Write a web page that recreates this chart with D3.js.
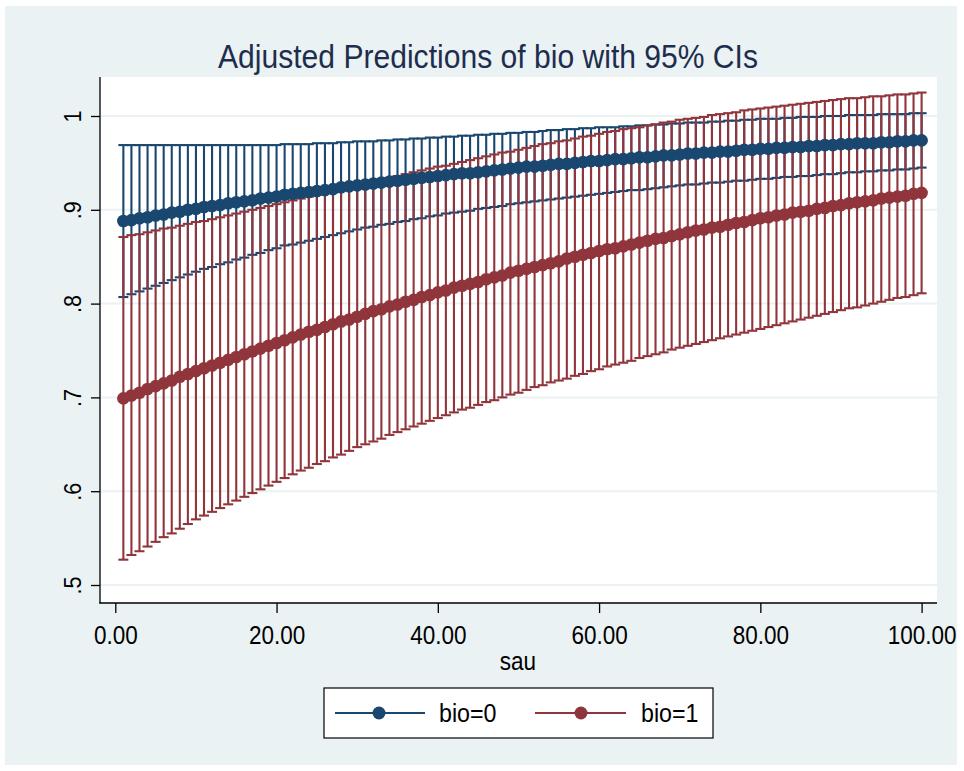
<!DOCTYPE html>
<html><head><meta charset="utf-8">
<script src="https://cdn.jsdelivr.net/npm/d3@7"></script>
<style>
body{margin:0;background:#fff}
svg{display:block}
text{font-family:"Liberation Sans",Arial,Helvetica,sans-serif}
</style>
</head><body>
<svg id="chart" width="964" height="771"></svg>
<script>
// ---- data ----
const sau = [1,2,3,4,5,6,7,8,9,10,11,12,13,14,15,16,17,18,19,20,
21,22,23,24,25,26,27,28,29,30,31,32,33,34,35,36,37,38,39,40,
41,42,43,44,45,46,47,48,49,50,51,52,53,54,55,56,57,58,59,60,
61,62,63,64,65,66,67,68,69,70,71,72,73,74,75,76,77,78,79,80,
81,82,83,84,85,86,87,88,89,90,91,92,93,94,95,96,97,98,99,100];

const est0 = [.888,.889,.891,.892,.894,.895,.897,.898,.900,.901,
.903,.904,.905,.907,.908,.909,.910,.912,.913,.914,
.916,.917,.918,.919,.920,.921,.922,.924,.925,.926,
.927,.928,.929,.930,.931,.932,.933,.934,.935,.936,
.937,.938,.939,.939,.940,.941,.942,.943,.944,.945,
.946,.946,.947,.948,.949,.949,.950,.951,.952,.952,
.953,.954,.954,.955,.956,.956,.957,.958,.958,.959,
.960,.960,.961,.961,.962,.962,.963,.964,.964,.965,
.965,.966,.966,.967,.967,.968,.968,.969,.969,.970,
.970,.971,.971,.971,.972,.972,.973,.973,.974,.974];

const hi0 = [.969,.969,.969,.969,.969,.969,.969,.969,.969,.969,
.969,.969,.969,.969,.969,.969,.969,.969,.969,.969,
.970,.970,.970,.970,.971,.971,.971,.972,.972,.973,
.973,.973,.974,.974,.975,.975,.976,.976,.977,.977,
.978,.978,.979,.979,.980,.980,.981,.981,.982,.982,
.983,.983,.984,.985,.985,.986,.986,.987,.987,.988,
.988,.988,.989,.989,.990,.990,.991,.991,.992,.992,
.993,.993,.993,.994,.994,.995,.995,.996,.996,.997,
.997,.997,.998,.998,.999,.999,.999,1.000,1.000,1.000,
1.001,1.001,1.001,1.001,1.002,1.002,1.002,1.002,1.003,1.003];

const lo0 = [.807,.810,.813,.816,.819,.822,.825,.828,.831,.834,
.837,.839,.842,.844,.847,.849,.852,.854,.857,.859,
.862,.863,.865,.867,.869,.871,.873,.875,.877,.879,
.881,.882,.884,.885,.887,.888,.890,.891,.893,.894,
.896,.897,.898,.899,.901,.902,.903,.904,.906,.907,
.908,.909,.910,.911,.912,.913,.914,.915,.916,.917,
.918,.919,.920,.921,.921,.922,.923,.924,.925,.926,
.927,.927,.928,.929,.929,.930,.931,.931,.932,.933,
.933,.934,.935,.935,.936,.936,.937,.938,.938,.939,
.940,.940,.941,.941,.942,.942,.943,.943,.944,.945];

const est1 = [.699,.702,.705,.709,.712,.715,.718,.722,.725,.728,
.731,.734,.737,.740,.743,.746,.749,.752,.755,.758,
.761,.764,.767,.770,.772,.775,.778,.781,.783,.786,
.789,.792,.794,.797,.799,.802,.804,.807,.809,.812,
.814,.817,.819,.821,.823,.826,.828,.830,.833,.835,
.837,.839,.841,.843,.845,.848,.850,.852,.854,.856,
.858,.859,.861,.863,.865,.867,.869,.870,.872,.874,
.876,.878,.879,.881,.882,.884,.886,.887,.889,.891,
.892,.894,.895,.897,.898,.899,.901,.902,.904,.905,
.907,.908,.909,.910,.912,.913,.914,.915,.917,.918];

const hi1 = [.871,.873,.874,.876,.878,.880,.881,.883,.885,.887,
.888,.890,.892,.894,.896,.898,.900,.902,.904,.906,
.908,.910,.912,.914,.916,.918,.920,.922,.924,.926,
.928,.930,.932,.934,.936,.938,.940,.942,.944,.946,
.947,.949,.951,.953,.955,.957,.959,.961,.962,.964,
.966,.968,.970,.971,.973,.974,.976,.978,.979,.981,
.983,.984,.986,.987,.988,.990,.991,.993,.994,.996,
.997,.998,.999,1.001,1.002,1.003,1.004,1.006,1.007,1.008,
1.009,1.010,1.011,1.012,1.013,1.014,1.015,1.016,1.017,1.018,
1.019,1.019,1.020,1.021,1.021,1.022,1.023,1.023,1.024,1.025];

const lo1 = [.527,.532,.536,.541,.546,.551,.555,.560,.565,.570,
.574,.578,.582,.586,.590,.594,.598,.602,.606,.610,
.614,.618,.622,.625,.629,.632,.636,.639,.643,.647,
.650,.653,.656,.660,.663,.666,.669,.672,.675,.678,
.681,.684,.687,.689,.692,.695,.697,.700,.703,.705,
.708,.711,.713,.716,.718,.720,.723,.725,.728,.730,
.733,.735,.737,.739,.742,.744,.746,.748,.751,.753,
.755,.757,.759,.761,.763,.765,.767,.769,.771,.773,
.775,.777,.779,.781,.783,.785,.787,.789,.791,.793,
.795,.796,.798,.800,.802,.804,.806,.807,.809,.811];

const seriesNames = ["bio=0", "bio=1"];
const xTicks = [0, 20, 40, 60, 80, 100];
const xTickLabels = ["0.00", "20.00", "40.00", "60.00", "80.00", "100.00"];
const yTicks = [0.5, 0.6, 0.7, 0.8, 0.9, 1];
const yTickLabels = [".5", ".6", ".7", ".8", ".9", "1"];
const titleText = "Adjusted Predictions of bio with 95% CIs";
const xTitle = "sau";

// ---- drawing ----
const colors = ["#1a476f", "#90353b"];
const series = [
  {name: seriesNames[0], est: est0, lo: lo0, hi: hi0, color: colors[0]},
  {name: seriesNames[1], est: est1, lo: lo1, hi: hi1, color: colors[1]}
];

const svg = d3.select("#chart");
const W = 964, H = 771;
const plot = {left: 100, right: 937, top: 77, bottom: 603};
const FONT = '"Liberation Sans", Arial, sans-serif';

// condense text a little, as Stata's Helvetica rendering is narrow
function condense(sel, k) {
  sel.each(function() {
    const w = this.getComputedTextLength();
    d3.select(this).attr("textLength", w * k).attr("lengthAdjust", "spacingAndGlyphs");
  });
}

svg.append("rect").attr("x", 0).attr("y", 0).attr("width", W).attr("height", H).attr("fill", "#ffffff");
svg.append("rect").attr("x", 5).attr("y", 6).attr("width", 952).attr("height", 759).attr("fill", "#eaf2f3");
svg.append("rect").attr("x", plot.left).attr("y", plot.top)
  .attr("width", plot.right - plot.left).attr("height", plot.bottom - plot.top).attr("fill", "#ffffff");

const x = d3.scaleLinear().domain([0, 100]).range([115.3, 921.6]);
const y = d3.scaleLinear().domain([0.5, 1]).range([585, 116]);

// gridlines
svg.append("g").selectAll("line").data(yTicks).join("line")
  .attr("x1", plot.left).attr("x2", plot.right)
  .attr("y1", d => y(d)).attr("y2", d => y(d))
  .attr("stroke", "#eaf2f3").attr("stroke-width", 2);

// CI caps
const capHalf = 5;
series.forEach(s => {
  const g = svg.append("g");
  const data = sau.map((v, i) => ({x: v, lo: s.lo[i], hi: s.hi[i]}));
  g.selectAll("line.v").data(data).join("line").attr("class", "v")
    .attr("x1", d => x(d.x)).attr("x2", d => x(d.x))
    .attr("y1", d => y(d.lo)).attr("y2", d => y(d.hi))
    .attr("stroke", s.color).attr("stroke-width", 2.1);
  ["lo", "hi"].forEach(k => {
    g.selectAll("line.c" + k).data(data).join("line").attr("class", "c" + k)
      .attr("x1", d => x(d.x) - capHalf).attr("x2", d => x(d.x) + capHalf)
      .attr("y1", d => y(d[k])).attr("y2", d => y(d[k]))
      .attr("stroke", s.color).attr("stroke-width", 2.1);
  });
});

// estimate lines + markers
series.forEach(s => {
  const pts = sau.map((v, i) => [x(v), y(s.est[i])]);
  svg.append("path").attr("d", d3.line()(pts))
    .attr("fill", "none").attr("stroke", s.color).attr("stroke-width", 2.4);
  svg.append("g").selectAll("circle").data(pts).join("circle")
    .attr("cx", d => d[0]).attr("cy", d => d[1]).attr("r", 6.3)
    .attr("fill", s.color);
});

// axes
const yAxis = d3.axisLeft(y).tickValues(yTicks)
  .tickFormat((d, i) => yTickLabels[i]).tickSize(9);
const gy = svg.append("g").attr("transform", `translate(${plot.left},0)`).call(yAxis);
gy.select(".domain").remove();
gy.selectAll(".tick line").attr("stroke", "#000").attr("stroke-width", 1.3);
gy.selectAll(".tick text")
  .attr("transform", "rotate(-90)")
  .attr("x", 0).attr("y", -19).attr("dy", 0)
  .attr("text-anchor", "middle")
  .attr("fill", "#000").style("font-size", "24px")
  .style("font-family", FONT)
  .call(condense, 0.9);

const xAxis = d3.axisBottom(x).tickValues(xTicks)
  .tickFormat((d, i) => xTickLabels[i]).tickSize(10).tickPadding(4);
const gx = svg.append("g").attr("transform", `translate(0,${plot.bottom})`).call(xAxis);
gx.select(".domain").remove();
gx.selectAll(".tick line").attr("stroke", "#000").attr("stroke-width", 1.3);
gx.selectAll(".tick text")
  .attr("y", 41).attr("dy", 0)
  .attr("fill", "#000").style("font-size", "25px")
  .style("font-family", FONT)
  .call(condense, 0.9);

svg.append("line").attr("x1", plot.left).attr("x2", plot.left)
  .attr("y1", plot.top).attr("y2", plot.bottom + 0.6)
  .attr("stroke", "#000").attr("stroke-width", 1.3);
svg.append("line").attr("x1", plot.left - 0.6).attr("x2", plot.right)
  .attr("y1", plot.bottom).attr("y2", plot.bottom)
  .attr("stroke", "#000").attr("stroke-width", 1.3);

// axis title
svg.append("text").attr("x", 518).attr("y", 670).attr("text-anchor", "middle")
  .style("font-size", "25px").attr("fill", "#000").text(xTitle)
  .call(condense, 0.9);

// title
svg.append("text").attr("x", 488).attr("y", 68).attr("text-anchor", "middle")
  .attr("textLength", 540).attr("lengthAdjust", "spacingAndGlyphs")
  .style("font-size", "33px").attr("fill", "#1e2d4e").text(titleText);

// legend
const lg = svg.append("g");
lg.append("rect").attr("x", 324).attr("y", 688).attr("width", 389).attr("height", 50)
  .attr("fill", "#fff").attr("stroke", "#000").attr("stroke-width", 1.2);
const legendItems = [
  {x1: 335, x2: 425, cx: 379, tx: 439},
  {x1: 535, x2: 626, cx: 581, tx: 641}
];
series.forEach((s, i) => {
  const it = legendItems[i];
  lg.append("line").attr("x1", it.x1).attr("x2", it.x2).attr("y1", 713).attr("y2", 713)
    .attr("stroke", s.color).attr("stroke-width", 2.2);
  lg.append("circle").attr("cx", it.cx).attr("cy", 713).attr("r", 6.5).attr("fill", s.color);
  lg.append("text").attr("x", it.tx).attr("y", 722).style("font-size", "25px")
    .attr("fill", "#000").text(s.name).call(condense, 0.93);
});
</script>
</body></html>
